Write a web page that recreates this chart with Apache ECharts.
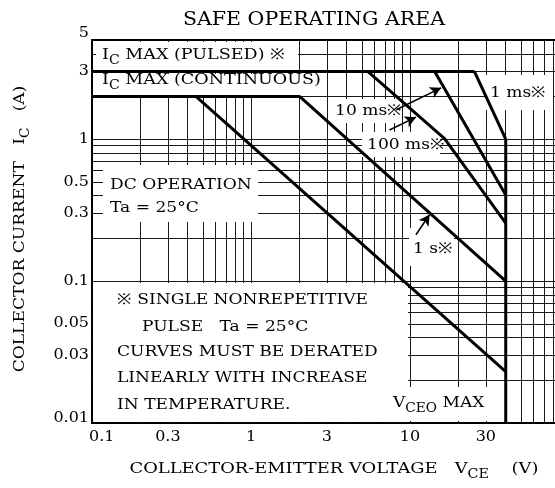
<!DOCTYPE html>
<html>
<head>
<meta charset="utf-8">
<script src="https://cdn.jsdelivr.net/npm/echarts@6/dist/echarts.min.js"></script>
<style>
  html, body { margin: 0; padding: 0; background: #fff; }
  #main { width: 555px; height: 488px; }
</style>
</head>
<body>
<div id="main"></div>
<script>
// tick labels
const xTicks = [0.1, 0.3, 1, 3, 10, 30];
const yTicks = [5, 3, 1, 0.5, 0.3, 0.1, 0.05, 0.03, 0.01];
// grid lines (1..9 per decade)
const xGrid = [0.2, 0.3, 0.4, 0.5, 0.6, 0.7, 0.8, 0.9, 1, 2, 3, 4, 5, 6, 7, 8, 9, 10, 20, 30, 40, 50, 60, 70, 80, 90];
const yGrid = [0.02, 0.03, 0.04, 0.05, 0.06, 0.07, 0.08, 0.09, 0.1, 0.2, 0.3, 0.4, 0.5, 0.6, 0.7, 0.8, 0.9, 1, 2, 3, 4];

// SOA boundaries [VCE, IC]
const pulsedMax = [[0.1, 3], [25.4, 3]];
const contMax = [[0.1, 2], [2.02, 2]];
const dcLine = [[0.45, 2], [40, 0.023]];
const oneSec = [[2.02, 2], [40, 0.1]];
const ms100 = [[5.42, 3], [16.5, 1.01], [40, 0.256]];
const ms10 = [[14.3, 3], [40, 0.404]];
const ms1 = [[25.4, 3], [40, 1.0]];
const vceoMax = [[40, 1.0], [40, 0.01]];

// pointer arrows [tail, head]
const arrow10ms = [[8.19, 1.61], [15.7, 2.3]];
const arrow100ms = [[7.43, 1.16], [10.9, 1.43]];
const arrow1s = [[10.9, 0.212], [13.3, 0.295]];

const FONT = '"DejaVu Serif"';
const SX = 1.14;

const chart = echarts.init(document.getElementById('main'));

function curve(data) {
    return {
        type: 'line',
        data: data,
        symbol: 'none',
        z: 10,
        silent: true,
        lineStyle: { color: '#000', width: 3 }
    };
}

function arrow(pts) {
    return [{ coord: pts[0] }, { coord: pts[1] }];
}

let option = {
    animation: false,
    grid: {
        left: 92, top: 40, right: -14, bottom: 65,
        outerBoundsMode: 'none',
        show: true, borderColor: '#000', borderWidth: 2
    },
    xAxis: {
        type: 'log', logBase: 10, min: 0.1, max: 100,
        axisLine: { show: false }, axisTick: { show: false },
        axisLabel: { show: false }, splitLine: { show: false }
    },
    yAxis: {
        type: 'log', logBase: 10, min: 0.01, max: 5,
        axisLine: { show: false }, axisTick: { show: false },
        axisLabel: { show: false }, splitLine: { show: false }
    },
    series: [
        {
            type: 'line',
            data: [],
            z: 1,
            markLine: {
                z: 1,
                silent: true,
                symbol: 'none',
                label: { show: false },
                lineStyle: { color: '#1a1a1a', width: 1, type: 'solid' },
                data: xGrid.map(v => ({ xAxis: v })).concat(yGrid.map(v => ({ yAxis: v })))
            }
        },
        curve(pulsedMax),
        curve(contMax),
        curve(dcLine),
        curve(oneSec),
        curve(ms100),
        curve(ms10),
        curve(ms1),
        curve(vceoMax),
        {
            type: 'line',
            data: [],
            z: 12,
            markLine: {
                z: 12,
                silent: true,
                symbol: ['none', 'arrow'],
                symbolSize: [9, 11],
                label: { show: false },
                lineStyle: { color: '#000', width: 1.6, type: 'solid' },
                data: [arrow(arrow10ms), arrow(arrow100ms), arrow(arrow1s)]
            }
        }
    ]
};
chart.setOption(option);

function txt(x, y, text, o) {
    o = o || {};
    const size = o.size || 15;
    const style = {
        text: text,
        fill: '#000',
        fontFamily: FONT,
        fontSize: size,
        align: o.align || 'left',
        verticalAlign: o.va || 'middle'
    };
    if (o.rich) style.rich = o.rich;
    return {
        type: 'text', x: x, y: y, z: 20,
        rotation: o.rot || 0,
        scaleX: o.sx || SX,
        style: style
    };
}

function sub(size) {
    return {
        m: { fontFamily: FONT, fontSize: size, verticalAlign: 'top', lineHeight: size + 2 },
        s: { fontFamily: FONT, fontSize: size - 3, verticalAlign: 'top', lineHeight: size - 1, padding: [7, 0, 0, 0] }
    };
}

function box(x, y, w, h) {
    return { type: 'rect', z: 3, shape: { x: x, y: y, width: w, height: h }, style: { fill: '#fff' } };
}

const els = [
    box(96, 42, 202, 28),
    box(93, 74, 229, 21),
    box(103, 165, 155, 57),
    box(330, 99, 70, 24),
    box(362, 132, 78, 25),
    box(486, 75, 67, 35),
    box(409, 228, 45, 38),
    box(93, 283, 315, 139),
    box(383, 387, 122, 34),

    txt(314, 20, 'SAFE OPERATING AREA', { size: 18, align: 'center' }),
    txt(102, 48, '{m|I}{s|C}{m| MAX (PULSED) ※}', { va: 'top', rich: sub(15), sx: 1.17 }),
    txt(102, 73, '{m|I}{s|C}{m| MAX (CONTINUOUS)}', { va: 'top', rich: sub(15), sx: 1.17 }),
    txt(110, 185, 'DC OPERATION'),
    txt(110, 208, 'Ta = 25°C'),
    txt(335, 111, '10 ms※'),
    txt(367, 145, '100 ms※'),
    txt(490, 93, '1 ms※'),
    txt(413, 249, '1 s※'),
    txt(117, 300, '※ SINGLE NONREPETITIVE'),
    txt(142, 327, 'PULSE   Ta = 25°C'),
    txt(117, 352, 'CURVES MUST BE DERATED'),
    txt(117, 378, 'LINEARLY WITH INCREASE'),
    txt(117, 405, 'IN TEMPERATURE.'),
    txt(393, 396, '{m|V}{s|CEO}{m| MAX}', { va: 'top', rich: sub(15) }),

    txt(334, 462, '{m|COLLECTOR-EMITTER VOLTAGE   V}{s|CE}{m|    (V)}', { align: 'center', va: 'top', rich: sub(15), sx: 1.19 }),
    txt(13, 229, '{m|COLLECTOR CURRENT   I}{s|C}{m|   (A)}', { align: 'center', va: 'top', rot: Math.PI / 2, rich: sub(15) })
];

xTicks.forEach((v, i) => {
    const p = chart.convertToPixel({ gridIndex: 0 }, [v, 0.01]);
    if (i === 0) {
        els.push(txt(p[0] - 3, 437, String(v), { size: 14, align: 'left' }));
    } else {
        els.push(txt(p[0], 437, String(v), { size: 14, align: 'center' }));
    }
});
yTicks.forEach((v, i) => {
    const p = chart.convertToPixel({ gridIndex: 0 }, [0.1, v]);
    let y = p[1];
    if (i === 0) y -= 7;
    if (i === yTicks.length - 1) y -= 5;
    els.push(txt(89, y, String(v), { size: 14, align: 'right' }));
});

chart.setOption({ graphic: { elements: els } });
</script>
</body>
</html>
